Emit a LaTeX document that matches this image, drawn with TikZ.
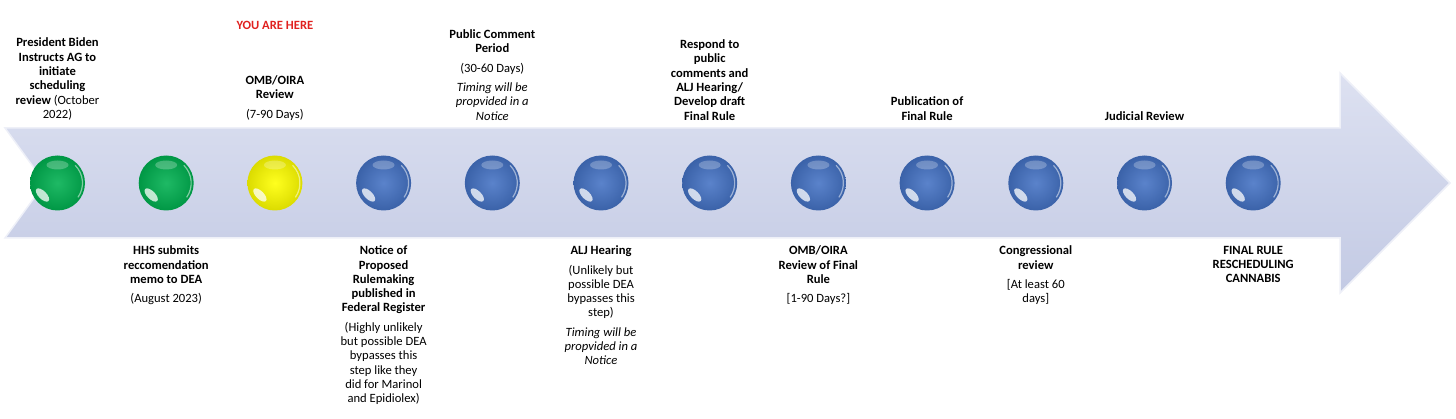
\documentclass[tikz,border=0pt]{standalone}
\usepackage{fontspec}
\setmainfont{Carlito}
\usetikzlibrary{positioning}

\definecolor{shafttop}{HTML}{DDE1F1}
\definecolor{shaftbot}{HTML}{C3CAE4}
\definecolor{shaftedge}{HTML}{EEF0F8}
\definecolor{stgreen}{HTML}{00B050}
\definecolor{styellow}{HTML}{FFFF00}
\definecolor{stblue}{HTML}{4472C4}
\definecolor{herered}{HTML}{E0201E}

\newcommand{\lblreg}[1]{\textmd{#1}}
\newcommand{\lblit}[1]{\textmd{\textit{#1}}}

\tikzset{
  stage/.style={circle,minimum size=55pt,inner sep=0pt},
  lbl/.style={align=center,inner sep=0pt,font=\fontsize{12.6}{14.3}\selectfont\bfseries},
}

\begin{document}
\begin{tikzpicture}[x=1pt,y=1pt,node distance=35pt]
  \useasboundingbox (0,0) rectangle (1456,418);
  % arrow body
  \path[top color=shafttop,bottom color=shaftbot,draw=shaftedge,line width=1.5pt]
    (5,290) -- (1340,290) -- (1340,345) -- (1450,235) -- (1340,125)
    -- (1340,180) -- (5,180) -- (45,235) -- cycle;
  % stages with glossy highlights
  \foreach \i/\c in {1/stgreen,2/stgreen,3/styellow,4/stblue,5/stblue,6/stblue,
                     7/stblue,8/stblue,9/stblue,10/stblue,11/stblue,12/stblue}{
    \pgfmathsetmacro{\x}{57.5+(\i-1)*108.7}
    \node[stage,inner color=\c!88!white,outer color=\c!86!black] (b\i) at (\x,235) {};
    \fill[white,opacity=0.25] (\x,253) ellipse (11 and 4.5);
    \fill[white,opacity=0.75,rotate around={-45:(\x-15,223)}] (\x-15,223) ellipse (8.5 and 4);
    \draw[white,opacity=0.5,line width=1.2pt] (\x,235) ++(-35:25) arc (-35:45:25);
  }
  % labels above
  \node[lbl,above=of b1] (t1) {President Biden\\Instructs AG to\\initiate\\scheduling\\review \lblreg{(October}\\\lblreg{2022)}};
  \node[lbl,above=of b3] (t3) {OMB/OIRA\\Review\\[5pt]\lblreg{(7-90 Days)}};
  \node[lbl,text=herered,above=46pt of t3] (here) {YOU ARE HERE};
  \node[lbl,above=of b5] (t5) {Public Comment\\Period\\[5pt]\lblreg{(30-60 Days)}\\[5pt]\lblit{Timing will be}\\\lblit{propvided in a}\\\lblit{Notice}};
  \node[lbl,above=of b7] (t7) {Respond to\\public\\comments and\\ALJ Hearing/\\Develop draft\\Final Rule};
  \node[lbl,above=of b9] (t9) {Publication of\\Final Rule};
  \node[lbl,above=of b11] (t11) {Judicial Review};
  % labels below
  \node[lbl,below=of b2] (u2) {HHS submits\\reccomendation\\memo to DEA\\[5pt]\lblreg{(August 2023)}};
  \node[lbl,below=of b4] (u4) {Notice of\\Proposed\\Rulemaking\\published in\\Federal Register\\[5pt]\lblreg{(Highly unlikely}\\\lblreg{but possible DEA}\\\lblreg{bypasses this}\\\lblreg{step like they}\\\lblreg{did for Marinol}\\\lblreg{and Epidiolex)}};
  \node[lbl,below=of b6] (u6) {ALJ Hearing\\[5pt]\lblreg{(Unlikely but}\\\lblreg{possible DEA}\\\lblreg{bypasses this}\\\lblreg{step)}\\[5pt]\lblit{Timing will be}\\\lblit{propvided in a}\\\lblit{Notice}};
  \node[lbl,below=of b8] (u8) {OMB/OIRA\\Review of Final\\Rule\\[5pt]\lblreg{[1-90 Days?]}};
  \node[lbl,below=of b10] (u10) {Congressional\\review\\[5pt]\lblreg{[At least 60}\\\lblreg{days]}};
  \node[lbl,below=of b12] (u12) {FINAL RULE\\RESCHEDULING\\CANNABIS};
\end{tikzpicture}
\end{document}
